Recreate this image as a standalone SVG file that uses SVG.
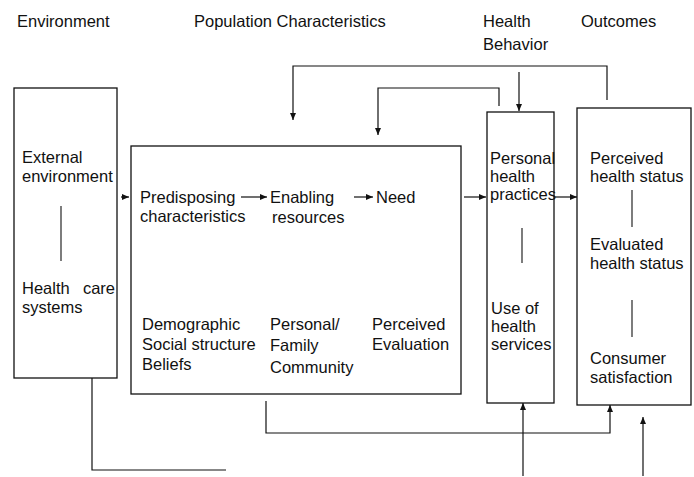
<svg xmlns="http://www.w3.org/2000/svg" width="694" height="477" viewBox="0 0 694 477">
  <style>
    text { font-family: "Liberation Sans", Arial, sans-serif; font-size: 16.5px; fill: #111; }
    .box { fill: none; stroke: #111; stroke-width: 1.3; }
    .sep { stroke: #111; stroke-width: 1.1; }
    .wire { fill: none; stroke: #111; stroke-width: 1.2; }
    .arrow { fill: none; stroke: #111; stroke-width: 1.2; marker-end: url(#head); }
  </style>
  <defs>
    <marker id="head" markerUnits="userSpaceOnUse" markerWidth="8" markerHeight="7" refX="7" refY="3" orient="auto">
      <path d="M0,0 L7,3 L0,6 z" fill="#111"/>
    </marker>
  </defs>
  <rect width="694" height="477" fill="#fff"/>

  <!-- column headings -->
  <g id="headings">
    <text x="17" y="27">Environment</text>
    <text x="194" y="27">Population Characteristics</text>
    <text x="483" y="27">Health</text>
    <text x="483" y="50">Behavior</text>
    <text x="581" y="27">Outcomes</text>
  </g>

  <!-- environment -->
  <g id="environment">
    <rect class="box" x="14" y="88" width="103" height="290"/>
    <text x="22" y="163">External</text>
    <text x="22" y="182">environment</text>
    <line class="sep" x1="61" y1="206" x2="61" y2="261"/>
    <text x="22" y="294">Health</text>
    <text x="115" y="294" text-anchor="end">care</text>
    <text x="22" y="313">systems</text>
  </g>

  <!-- population characteristics -->
  <g id="population">
    <rect class="box" x="131" y="146" width="330" height="248"/>
    <text x="140" y="203">Predisposing</text>
    <text x="140" y="222">characteristics</text>
    <text x="270" y="203">Enabling</text>
    <text x="272" y="223">resources</text>
    <text x="376" y="203">Need</text>
    <text x="142" y="330">Demographic</text>
    <text x="142" y="350">Social structure</text>
    <text x="142" y="370">Beliefs</text>
    <text x="270" y="330">Personal/</text>
    <text x="270" y="351">Family</text>
    <text x="270" y="373">Community</text>
    <text x="372" y="330">Perceived</text>
    <text x="372" y="350">Evaluation</text>
  </g>

  <!-- health behavior -->
  <g id="health-behavior">
    <rect class="box" x="487" y="112" width="67" height="291"/>
    <text x="490" y="164">Personal</text>
    <text x="490" y="182">health</text>
    <text x="490" y="200">practices</text>
    <line class="sep" x1="522" y1="228" x2="522" y2="263"/>
    <text x="491" y="314">Use of</text>
    <text x="491" y="332">health</text>
    <text x="491" y="350">services</text>
  </g>

  <!-- outcomes -->
  <g id="outcomes">
    <rect class="box" x="577" y="108" width="114" height="297"/>
    <text x="590" y="164">Perceived</text>
    <text x="590" y="182">health status</text>
    <line class="sep" x1="632" y1="190" x2="632" y2="227"/>
    <text x="590" y="250">Evaluated</text>
    <text x="590" y="269">health status</text>
    <line class="sep" x1="632" y1="300" x2="632" y2="337"/>
    <text x="590" y="364">Consumer</text>
    <text x="590" y="383">satisfaction</text>
  </g>

  <!-- connectors -->
  <g id="connectors">
    <path class="arrow" d="M121,197 H129"/>
    <path class="arrow" d="M241,197 H267"/>
    <path class="arrow" d="M354,197 H373"/>
    <path class="arrow" d="M464,197 H486"/>
    <path class="arrow" d="M555,197 H577"/>
    <path class="arrow" d="M607,100 V66 H293 V120"/>
    <path class="arrow" d="M499,106 V88 H378 V135"/>
    <path class="arrow" d="M519,72 V111"/>
    <path class="arrow" d="M266,401 V433 H610 V405"/>
    <path class="wire" d="M92,378 V470 H226"/>
    <path class="arrow" d="M523,476 V403"/>
    <path class="arrow" d="M643,476 V417"/>
  </g>
</svg>
